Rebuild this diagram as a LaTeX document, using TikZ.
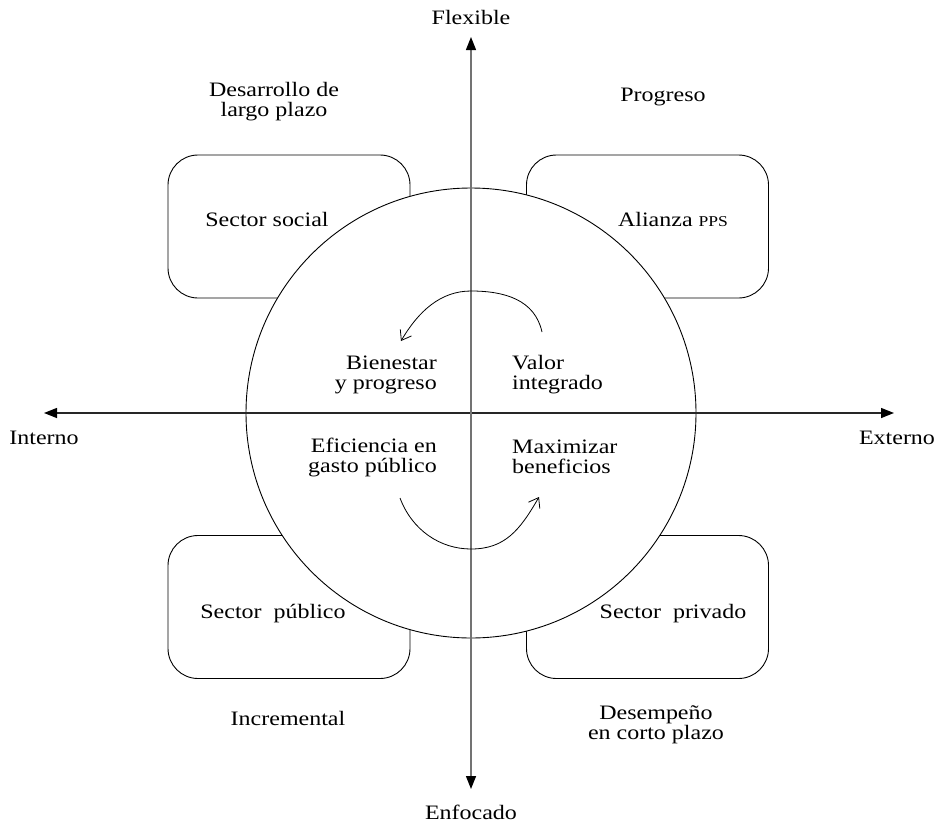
\documentclass[tikz,border=0pt]{standalone}
\usepackage{fontspec}
\setmainfont{Liberation Serif}[FakeStretch=1.17]
\usetikzlibrary{arrows.meta}
\begin{document}
\begin{tikzpicture}[x=1pt,y=-1pt,
  every node/.style={font=\fontsize{20.5}{20}\selectfont, inner sep=0pt},
  rbox/.style={draw=black, line width=0.9pt, rounded corners=30pt, minimum width=242pt, minimum height=143pt},
  axisline/.style={line width=1.4pt},
  axtip/.style={{Triangle[length=13pt,width=10pt,color=black]}-{Triangle[length=13pt,width=10pt,color=black]}},
  cycle/.style={line width=0.8pt, -{Straight Barb[length=9pt,width=13pt]}}]
\useasboundingbox (0,0) rectangle (937,830);
% boxes
\node[rbox] (btl) at (289,226.5) {};
\node[rbox] (btr) at (647.5,226.5) {};
\node[rbox] (bbl) at (289,607) {};
\node[rbox] (bbr) at (647.5,607) {};
% circle
\node[circle, draw=black, line width=0.9pt, fill=white, minimum size=450pt] (c) at (471,413) {};
% axes
\coordinate (N) at (471,37);
\coordinate (S) at (471,789);
\coordinate (W) at (44,413);
\coordinate (E) at (894,413);
\draw[axisline, axtip, draw=black!85] (W) -- (E);
\draw[axisline, axtip, draw=black!55] (S) -- (N);
% axis labels
\node (flex) at (471,17) {Flexible};
\node (enf) at (471,812) {Enfocado};
\node (int) at (44,438) {Interno};
\node (ext) at (897,438) {Externo};
% corner labels
\node[align=center] (q1) at (274,102) {Desarrollo de\\largo plazo};
\node (q2) at (663,97) {Progreso};
\node (q3) at (288,718) {Incremental};
\node[align=center] (q4) at (656,725) {Desempeño\\en corto plazo};
% box labels
\node (s1) at (267,219) {Sector social};
\node (s2) at (673,219) {Alianza {\fontsize{15}{16}\selectfont PPS}};
\node (s3) at (273,614) {Sector\ \ público};
\node (s4) at (673,614) {Sector\ \ privado};
% inner labels
\node[align=right, anchor=east] (i1) at (437,375) {Bienestar\\y progreso};
\node[align=left, anchor=west] (i2) at (512,375) {Valor\\integrado};
\node[align=right, anchor=east] (i3) at (437,457) {Eficiencia en\\gasto público};
\node[align=left, anchor=west] (i4) at (512,457) {Maximizar\\beneficios};
% cycle arrows
\coordinate (t1) at (542,332);
\coordinate (t2) at (471,291);
\coordinate (t3) at (401,341);
\coordinate (u1) at (400,498);
\coordinate (u2) at (471,549);
\coordinate (u3) at (539,497);
\draw[cycle] (t1) .. controls (535,300) and (505,291) .. (t2) .. controls (440,291) and (418,312) .. (t3);
\draw[cycle] (u1) .. controls (412,530) and (440,549) .. (u2) .. controls (505,549) and (520,530) .. (u3);
\end{tikzpicture}
\end{document}
